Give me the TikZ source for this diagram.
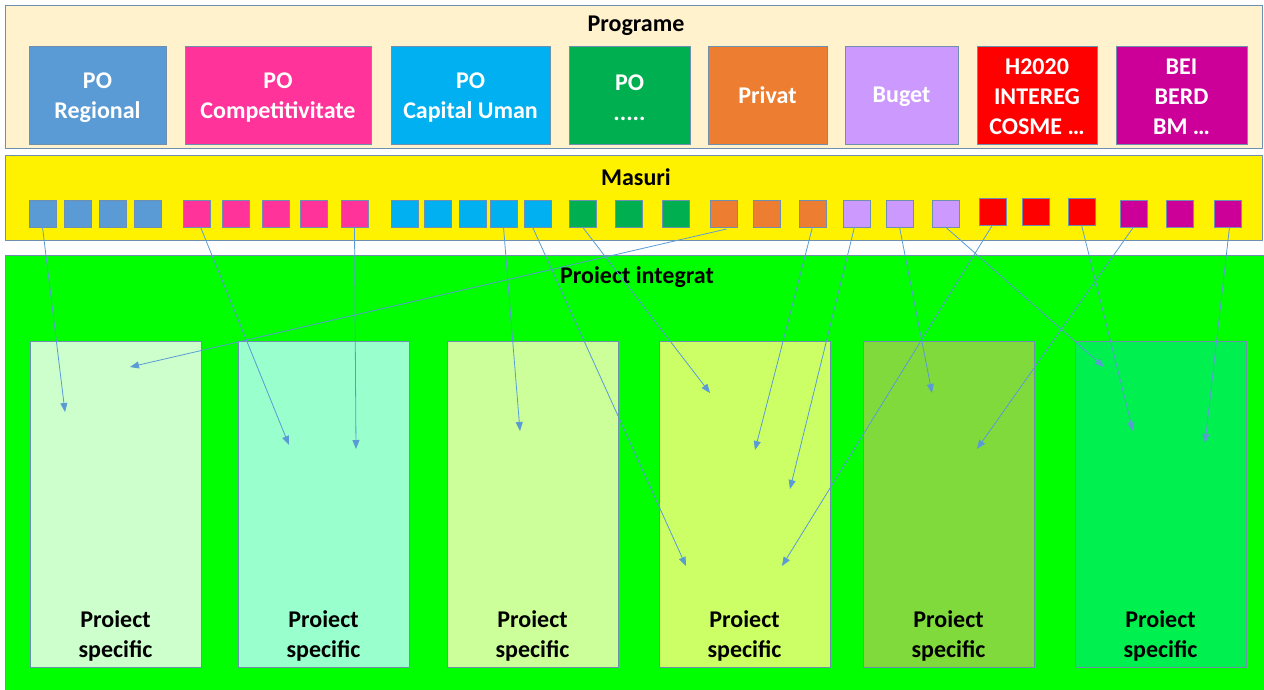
\documentclass[tikz,border=0pt]{standalone}
\usepackage{fontspec}
\setmainfont{Carlito}
\usetikzlibrary{arrows.meta}
\definecolor{cream}{HTML}{FFF2CC}
\definecolor{frame}{HTML}{6F8FB0}
\definecolor{cReg}{HTML}{5B9BD5}
\definecolor{cComp}{HTML}{FF3399}
\definecolor{cCap}{HTML}{00B0F0}
\definecolor{cGr}{HTML}{00B050}
\definecolor{cPriv}{HTML}{ED7D31}
\definecolor{cBug}{HTML}{CC99FF}
\definecolor{cRed}{HTML}{FF0000}
\definecolor{cMag}{HTML}{CC0099}
\definecolor{bg}{HTML}{00FF00}
\definecolor{ps1}{HTML}{CCFFCC}
\definecolor{ps2}{HTML}{99FFCC}
\definecolor{ps3}{HTML}{CCFF99}
\definecolor{ps4}{HTML}{CCFF66}
\definecolor{ps5}{HTML}{80DA3C}
\definecolor{ps6}{HTML}{00F050}
\definecolor{arr}{HTML}{5B9BD5}
\begin{document}
\begin{tikzpicture}[x=1pt,y=-1pt,
  txt/.style={font=\fontsize{24}{30}\selectfont\bfseries, align=center},
  band/.style={draw=frame, line width=1pt},
  pbox/.style={draw=frame, line width=0.8pt, inner sep=0pt, outer sep=0pt, anchor=north west, minimum height=98pt},
  ptxt/.style={txt, text=white},
  sq/.style={draw=frame, line width=0.8pt, inner sep=0pt, outer sep=0pt, anchor=north west, minimum width=27pt, minimum height=27pt},
  psbox/.style={draw=frame, line width=0.8pt, inner sep=0pt, outer sep=0pt, anchor=north west, minimum width=171pt, minimum height=326pt},
  link/.style={draw=arr, line width=0.8pt, -{Triangle[length=9pt,width=7pt]}}]
\useasboundingbox (0,0) rectangle (1264,689);
\fill[white] (0,0) rectangle (1264,689);
% bands
\draw[band, fill=cream] (5,5) rectangle (1262,148);
\draw[band, fill=yellow] (5,155) rectangle (1262,240);
\draw[band, fill=bg] (5,255) rectangle (1266,691);
\node[txt] (tProg) at (636,26) {Programe};
\node[txt] (tMas) at (636,177) {Masuri};
\node[txt] (tPI) at (637,277) {Proiect integrat};
% programmes
\node[pbox, fill=cReg, minimum width=137pt] (p1) at (29,46) {};
\node[pbox, fill=cComp, minimum width=186pt] (p2) at (185,46) {};
\node[pbox, fill=cCap, minimum width=159pt] (p3) at (391,46) {};
\node[pbox, fill=cGr, minimum width=121pt] (p4) at (569,46) {};
\node[pbox, fill=cPriv, minimum width=119pt] (p5) at (708,46) {};
\node[pbox, fill=cBug, minimum width=113pt] (p6) at (845,46) {};
\node[pbox, fill=cRed, minimum width=120pt] (p7) at (977,46) {};
\node[pbox, fill=cMag, minimum width=131pt] (p8) at (1116,46) {};
\node[ptxt] (t1) at ([yshift=-3pt]p1.center) {PO\\Regional};
\node[ptxt] (t2) at ([yshift=-3pt]p2.center) {PO\\Competitivitate};
\node[ptxt] (t3) at ([yshift=-3pt]p3.center) {PO\\Capital Uman};
\node[ptxt] (t4) at ([yshift=-3pt]p4.center) {PO\\.....};
\node[ptxt] (t5) at (p5.center) {Privat};
\node[ptxt, text depth=0pt] (t6) at (p6.center) {Buget};
\node[ptxt] (t7) at ([yshift=-2pt]p7.center) {H2020\\INTEREG\\COSME \dots};
\node[ptxt] (t8) at ([yshift=-2pt]p8.center) {BEI\\BERD\\BM \dots};
% measures
\foreach \x/\y/\c [count=\i] in {29/200/cReg,64/200/cReg,99/200/cReg,134/200/cReg,
  183/200/cComp,222/200/cComp,262/200/cComp,300/200/cComp,341/200/cComp,
  391/200/cCap,424/200/cCap,459/200/cCap,490/200/cCap,524/200/cCap,
  569/200/cGr,615/200/cGr,662/200/cGr,
  710/200/cPriv,753/200/cPriv,799/200/cPriv,
  843/200/cBug,886/200/cBug,932/200/cBug,
  979/198/cRed,1022/198/cRed,1068/198/cRed,
  1120/200/cMag,1166/200/cMag,1214/200/cMag}
  \node[sq, fill=\c] (m\i) at (\x,\y) {};
% specific projects
\node[psbox, fill=ps1] (s1) at (30,341) {};
\node[psbox, fill=ps2] (s2) at (238,341) {};
\node[psbox, fill=ps3] (s3) at (447,341) {};
\node[psbox, fill=ps4] (s4) at (659,341) {};
\node[psbox, fill=ps5] (s5) at (863,341) {};
\node[psbox, fill=ps6] (s6) at (1075,341) {};
\foreach \i in {1,...,6}
  \node[txt] (l\i) at ([yshift=31pt]s\i.south) {Proiect\\specific};
% arrow targets
\coordinate (e1) at (65,412);
\coordinate (e2) at (289,445);
\coordinate (e3) at (356,449);
\coordinate (e4) at (520,431);
\coordinate (e5) at (686,566);
\coordinate (e6) at (710,393);
\coordinate (e7) at (130,367);
\coordinate (e8) at (755,450);
\coordinate (e9) at (790,489);
\coordinate (e10) at (932,393);
\coordinate (e11) at (1104,367);
\coordinate (e12) at (782,566);
\coordinate (e13) at (1133,431);
\coordinate (e14) at (977,449);
\coordinate (e15) at (1205,443);
% arrows
\draw[link] (m1.south) -- (e1);
\draw[link] ([xshift=4pt]m5.south) -- (e2);
\draw[link] (m9.south) -- (e3);
\draw[link] (m13.south) -- (e4);
\draw[link] ([xshift=-5pt]m14.south) -- (e5);
\draw[link] (m15.south) -- (e6);
\draw[link] ([xshift=3pt,yshift=-2pt]m18.south) -- (e7);
\draw[link] (m20.south) -- (e8);
\draw[link] ([xshift=-2pt]m21.south) -- (e9);
\draw[link] (m22.south) -- (e10);
\draw[link] (m23.south) -- (e11);
\draw[link] (m24.south) -- (e12);
\draw[link] (m26.south) -- (e13);
\draw[link] (m27.south) -- (e14);
\draw[link] ([xshift=2pt]m29.south) -- (e15);
\end{tikzpicture}
\end{document}
